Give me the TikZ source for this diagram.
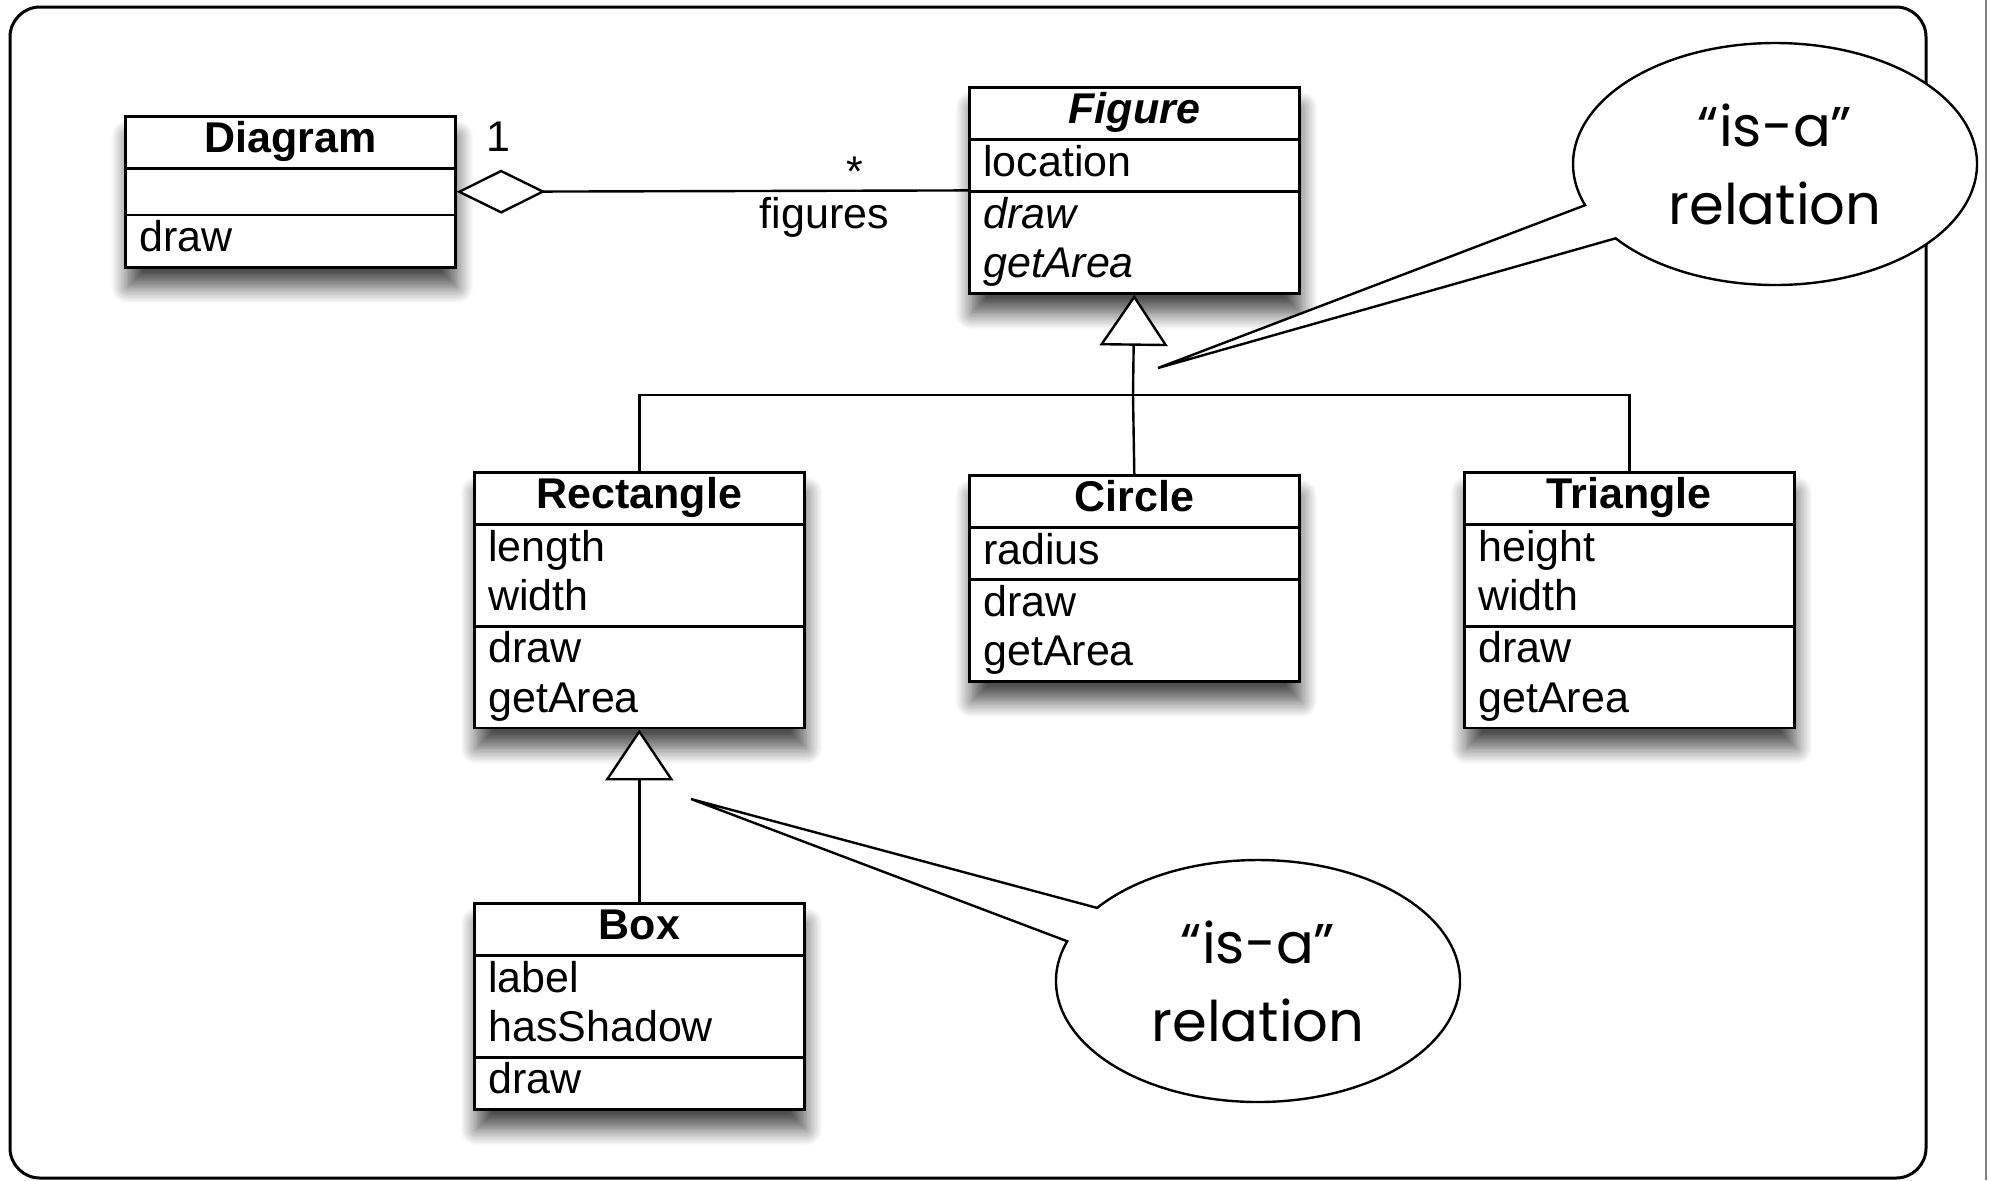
\documentclass[tikz,border=0pt]{standalone}
\usepackage{fontspec}
\setmainfont{Liberation Sans}
\newfontfamily\notefont{Poppins}
\usetikzlibrary{shapes.multipart,shapes.callouts,arrows.meta,shadows.blur}

\newcommand\rowstrut{\rule[-7.2pt]{0pt}{24.8pt}}
\newcommand\umltitle[1]{\makebox[151pt]{\rowstrut\bfseries #1}}

\begin{document}
\begin{tikzpicture}[x=0.5pt,y=-0.5pt,
        umlclass/.style={
        rectangle split, rectangle split parts=3,
        draw=black, line width=1.3pt, fill=white,
        text width=151pt, inner xsep=7pt, inner ysep=0pt,
        anchor=north west, align=left,
        font=\fontsize{21.5}{24.8}\selectfont,
        blur shadow={shadow xshift=1pt, shadow yshift=-10pt,
          shadow blur radius=8pt, shadow blur steps=12, shadow opacity=70}},
        isa/.style={
        ellipse callout, draw=black, line width=1.2pt, fill=white,
        minimum width=202pt, minimum height=121pt, inner sep=0pt,
        callout pointer arc=18, align=center,
        font=\notefont\fontsize{28}{39}\selectfont},
        gen/.style={-{Triangle[open, length=25.5pt, width=34pt, fill=white]},
        line width=1.2pt},
        aggr/.style={{Diamond[open, length=44.5pt, width=22pt, fill=white]}-,
        line width=1.2pt},
        ]

        \useasboundingbox (0,0) rectangle (1989,1180);
        \draw[line width=1.5pt, rounded corners=15pt] (10,7) rectangle (1926,1178);
        \draw[gray, line width=1pt] (1986,0) -- (1986,1180);

        % classes
        \node[umlclass] (diagram) at (124,115) {\umltitle{Diagram}
          \nodepart{two}\rule[-7pt]{0pt}{22pt}
          \nodepart{three}\rowstrut draw};
        \node[umlclass] (figure) at (968,86) {\umltitle{\itshape Figure}
          \nodepart{two}\rowstrut location
          \nodepart{three}\itshape\rowstrut draw\\\rowstrut getArea};
        \node[umlclass] (rect) at (473,471) {\umltitle{Rectangle}
          \nodepart{two}\rowstrut length\\\rowstrut width
          \nodepart{three}\rowstrut draw\\\rowstrut getArea};
        \node[umlclass] (circ) at (968,474) {\umltitle{Circle}
          \nodepart{two}\rowstrut radius
          \nodepart{three}\rowstrut draw\\\rowstrut getArea};
        \node[umlclass] (tri) at (1463,471) {\umltitle{Triangle}
          \nodepart{two}\rowstrut height\\\rowstrut width
          \nodepart{three}\rowstrut draw\\\rowstrut getArea};
        \node[umlclass] (box) at (473,902) {\umltitle{Box}
          \nodepart{two}\rowstrut label\\\rowstrut hasShadow
          \nodepart{three}\rowstrut draw};

        % inheritance
        \coordinate (bus) at (1133,395);
        \draw[line width=1.2pt] (rect.north) |- (bus) -| (tri.north);
        \draw[line width=1.2pt] (circ.north) -- (bus);
        \draw[gen] (bus) -- (figure.south);
        \draw[gen] (box.north) -- (rect.south);

        % aggregation
        \draw[aggr] (diagram.east) -- (figure.west);
        \node[font=\fontsize{21.5}{25}\selectfont] (one) at (498,137) {1};
        \node[font=\fontsize{21.5}{25}\selectfont] (many) at (855,172) {*};
        \node[font=\fontsize{21.5}{25}\selectfont, anchor=east] (role) at (896,217) {figures};

        % notes
        \coordinate (tipa) at (1158,368);
        \node[isa, callout absolute pointer={(tipa)}] (isaa) at (1775,164) {“is-a”\\relation};
        \coordinate (tipb) at (691,799);
        \node[isa, callout absolute pointer={(tipb)}] (isab) at (1258,981) {“is-a”\\relation};
\end{tikzpicture}
\end{document}
